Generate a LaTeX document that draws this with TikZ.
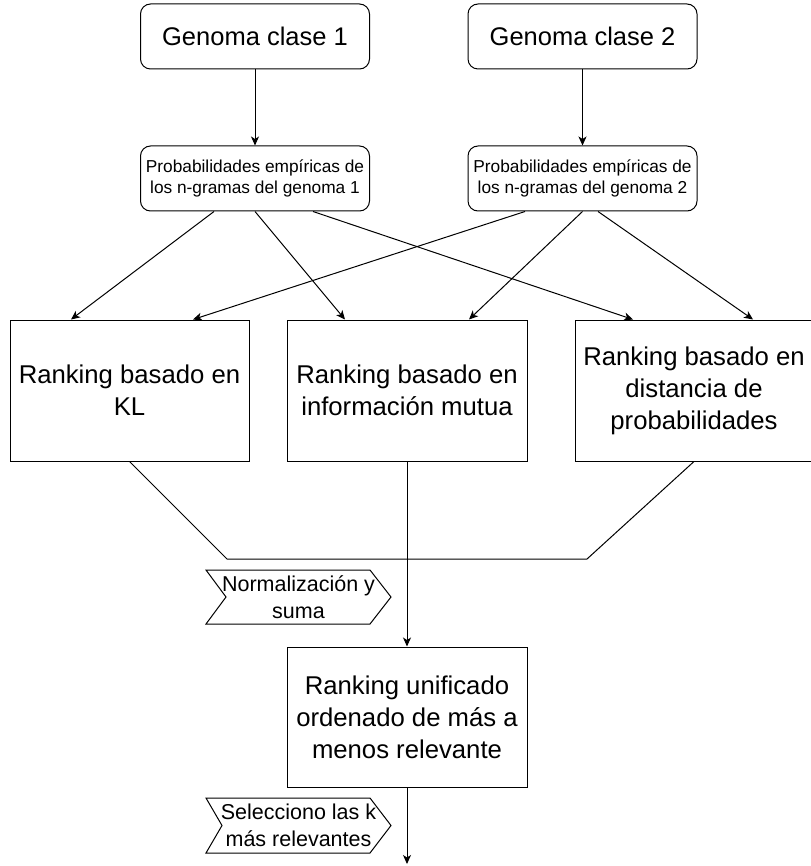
\documentclass[tikz,border=0pt]{standalone}
\usepackage{fontspec}
\setmainfont{Liberation Sans}
\usetikzlibrary{arrows.meta}

\begin{document}
\begin{tikzpicture}[x=1pt, y=-1pt, line width=1pt,
    every node/.style={align=center, inner sep=0pt},
    genbox/.style={draw, rounded corners=10pt, minimum width=229pt, minimum height=65pt,
        font=\fontsize{25.5}{31}\selectfont},
    probbox/.style={genbox, font=\fontsize{17.3}{21}\selectfont},
    rankbox/.style={draw, minimum width=239pt, minimum height=141pt,
        font=\fontsize{25.7}{32}\selectfont},
    sigtext/.style={font=\fontsize{21.5}{27}\selectfont},
    flow/.style={-{Stealth[length=9pt,width=8pt,inset=2.5pt]}}]
    % Rahmen
    \useasboundingbox (0,0) rectangle (810,866);

    % Genome
    \node[genbox] (g1) at (255,36.5) {Genoma clase 1};
    \node[genbox] (g2) at (582.5,36.5) {Genoma clase 2};

    % Wahrscheinlichkeiten
    \node[probbox] (p1) at (255,178.5) {Probabilidades empíricas de\\los n-gramas del genoma 1};
    \node[probbox] (p2) at (582.5,178.5) {Probabilidades empíricas de\\los n-gramas del genoma 2};

    % Rankings
    \node[rankbox] (r1) at (129.5,390.5) {Ranking basado en\\KL};
    \node[rankbox, minimum width=240pt] (r2) at (407,390.5) {Ranking basado en\\información mutua};
    \node[rankbox, minimum width=238pt] (r3) at (694,390.5) {Ranking basado en\\distancia de\\probabilidades};

    \node[rankbox, minimum width=240pt, minimum height=140pt] (u) at (407,717)
        {Ranking unificado\\ordenado de más a\\menos relevante};

    % Pfeile
    \draw[flow] (g1) -- (p1);
    \draw[flow] (g2) -- (p2);

    \draw[flow] ([xshift=-41pt]p1.south) -- ([xshift=-58.5pt]r1.north);
    \draw[flow] (p1.south) -- ([xshift=-62pt]r2.north);
    \draw[flow] ([xshift=58pt]p1.south) -- ([xshift=-61pt]r3.north);
    \draw[flow] ([xshift=-57.5pt]p2.south) -- ([xshift=63.5pt]r1.north);
    \draw[flow] (p2.south) -- ([xshift=62pt]r2.north);
    \draw[flow] ([xshift=15.5pt]p2.south) -- ([xshift=59pt]r3.north);

    % Zusammenfuehrung
    \coordinate (m1) at (227,559);
    \coordinate (m2) at (587,559);
    \draw (r1.south) -- (m1) -- (m2) -- (r3.south);
    \draw[flow] (r2.south) -- (u.north);

    \coordinate (fin) at (407,864);
    \draw[flow] (u.south) -- (fin);

    % Schritte
    \node[sigtext] (s1) at (298.5,597) {Normalización y\\suma};
    \draw ([shift={(-92.5,-27)}]s1.center) -- ++(164,0) -- ++(21,27) -- ++(-21,27)
        -- ++(-164,0) -- ++(20,-27) -- cycle;

    \node[sigtext] (s2) at (298.5,825.5) {Selecciono las k\\más relevantes};
    \draw ([shift={(-92.5,-27.5)}]s2.center) -- ++(164,0) -- ++(21,27.5) -- ++(-21,27.5)
        -- ++(-164,0) -- ++(16,-27.5) -- cycle;
\end{tikzpicture}
\end{document}
